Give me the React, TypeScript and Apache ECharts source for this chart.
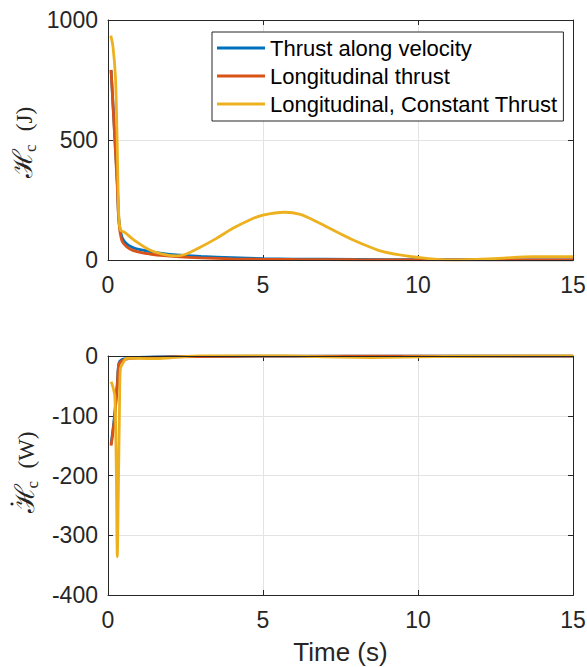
import React, { useEffect, useRef } from "react";
import * as echarts from "echarts";

// ---- Data ----
const seriesNames = ["Thrust along velocity", "Longitudinal thrust", "Longitudinal, Constant Thrust"];
const seriesColors = ["#0072BD", "#D95319", "#EDB120"];

// Top plot: H_c (J)
const timeTopBR = [0.1, 0.2, 0.3, 0.35, 0.45, 0.6, 0.8, 1.0, 1.4, 1.8, 2.2, 3, 4, 5, 6, 8, 10, 12, 15];
const hVelocity = [790, 560, 320, 170, 95, 68, 52, 44, 34, 26, 21, 15, 10, 6, 4, 2.5, 1.5, 1, 0.5];
const hLongitudinal = [792, 549, 306, 160, 80, 55, 40, 33, 24, 18, 14, 9, 5, 3, 2, 1, 0.8, 0.5, 0.4];

const timeTopY = [0.09, 0.16, 0.24, 0.29, 0.345, 0.4, 0.54, 0.81, 1.35, 1.88, 2.2, 2.53, 2.96, 3.5, 4.03, 4.57, 5.0, 5.7, 6.2, 6.72, 7.8, 8.87, 10.0, 11.13, 12.6, 13.7, 15];
const hConstant = [935, 889, 764, 528, 194, 125, 115, 86, 42, 21, 17, 25, 52, 90, 132, 167, 187, 199, 190, 160, 90, 35, 11, 0, 7, 14, 14];

// Bottom plot: dH_c/dt (W)
const timeBotBR = [0.1, 0.2, 0.3, 0.35, 0.45, 0.7, 1.0, 2.0, 4.0, 8.0, 15];
const dVelocity = [-148, -105, -45, -12, -6, -3.5, -2.5, -1.2, -0.4, 0, 0];
const dLongitudinal = [-150, -110, -50, -15, -8, -4, -3, -1.5, -0.5, 0, 0];

const timeBotY = [0.1, 0.15, 0.22, 0.25, 0.27, 0.3, 0.33, 0.37, 0.4, 0.48, 0.6, 1.0, 1.5, 2.0, 2.5, 3.0, 3.5, 4.5, 5.5, 6.5, 7.5, 8.5, 9.5, 10.5, 12, 13.5, 15];
const dConstant = [-43, -50, -68, -130, -200, -336, -240, -90, -21, -12, -4, -4, -4.5, -3, -1, 1, 2, 2.5, 1.5, -0.5, -2, -2.5, -2, -1, 0, 0.5, 0.5];

const xTicks = { min: 0, max: 15, interval: 5 };
const yTopTicks = { min: 0, max: 1000, interval: 500 };
const yBotTicks = { min: -400, max: 0, interval: 100 };
const xAxisTitle = "Time (s)";
const topUnit = "(J)";
const botUnit = "(W)";

const pair = (t: number[], v: number[]) => t.map((x, i) => [x, v[i]]);

const AXC = "#262626";
const FONT = "'Liberation Sans', Arial, Helvetica, sans-serif";
const SERIF = "'Liberation Serif', 'DejaVu Serif', serif";

const GRIDS = [
  { left: 108, top: 20, width: 465, height: 240 },
  { left: 108, top: 356, width: 465, height: 239 },
];

function yTitle(cx: number, cy: number, unit: string, dot: boolean, lay: any) {
  const F = 27;
  const children: any[] = [
    {
      type: "text",
      x: lay.h,
      y: -0.34 * F,
      style: { text: "ℋ", font: `${F}px 'DejaVu Serif', serif`, fill: AXC, align: "left", verticalAlign: "middle" },
    },
    {
      type: "text",
      x: lay.c,
      y: 4 - 0.34 * 17,
      style: { text: "c", font: `17px ${SERIF}`, fill: AXC, align: "left", verticalAlign: "middle" },
    },
    {
      type: "text",
      x: lay.u,
      y: -0.34 * 23,
      style: { text: unit, font: `23px ${SERIF}`, fill: AXC, align: "center", verticalAlign: "middle" },
    },
  ];
  if (dot) {
    children.push({ type: "circle", shape: { cx: lay.h + 9, cy: -22, r: 1.6 }, style: { fill: AXC } });
  }
  return { type: "group", x: cx, y: cy, rotation: Math.PI / 2, children };
}

function frame(g: any) {
  return {
    type: "rect",
    z: 100,
    silent: true,
    shape: { x: g.left + 0.5, y: g.top + 0.5, width: g.width, height: g.height },
    style: { fill: "none", stroke: AXC, lineWidth: 1 },
  };
}

function App() {
  const ref = useRef<HTMLDivElement>(null);
  useEffect(() => {
    if (!ref.current) return;
    const chart = echarts.init(ref.current, null, { renderer: "svg" });
    const grids = GRIDS.map((g) => ({ ...g, outerBoundsMode: "none", containLabel: false }));
    const mkX = (gi: number, pos: string, labels: boolean, name?: string) => ({
      type: "value",
      gridIndex: gi,
      position: pos,
      ...xTicks,
      name: name || "",
      nameLocation: "middle",
      nameGap: 44,
      nameTextStyle: { fontFamily: FONT, fontSize: 26, color: AXC },
      axisLine: { show: true, onZero: false, lineStyle: { color: AXC, width: 1 } },
      axisTick: { show: true, inside: true, length: 5, lineStyle: { color: AXC } },
      axisLabel: { show: labels, fontFamily: FONT, fontSize: 23, color: AXC, margin: 13 },
      splitLine: { show: labels, lineStyle: { color: "#e3e3e3", width: 1 } },
    });
    const mkY = (gi: number, pos: string, labels: boolean, ticks: any) => ({
      type: "value",
      gridIndex: gi,
      position: pos,
      ...ticks,
      axisLine: { show: true, onZero: false, lineStyle: { color: AXC, width: 1 } },
      axisTick: { show: true, inside: true, length: 5, lineStyle: { color: AXC } },
      axisLabel: {
        show: true,
        fontFamily: FONT,
        fontSize: 23,
        color: AXC,
        margin: 10,
        formatter: (v: number) => (labels ? String(v) : ""),
      },
      splitLine: { show: labels, lineStyle: { color: "#e3e3e3", width: 1 } },
    });
    const line = (name: string, color: string, data: number[][], gi: number) => ({
      type: "line",
      name,
      xAxisIndex: gi === 0 ? 0 : 2,
      yAxisIndex: gi === 0 ? 0 : 2,
      data,
      showSymbol: false,
      symbol: "none",
      lineStyle: { color, width: 2.8 },
      itemStyle: { color },
      smooth: 0.3,
      clip: true,
    });
    chart.setOption({
      animation: false,
      backgroundColor: "#ffffff",
      grid: grids,
      xAxis: [
        mkX(0, "bottom", true),
        mkX(0, "top", false),
        mkX(1, "bottom", true, xAxisTitle),
        mkX(1, "top", false),
      ],
      yAxis: [
        mkY(0, "left", true, yTopTicks),
        mkY(0, "right", false, yTopTicks),
        mkY(1, "left", true, yBotTicks),
        mkY(1, "right", false, yBotTicks),
      ],
      graphic: [
        frame(GRIDS[0]),
        frame(GRIDS[1]),
        yTitle(32, 141, topUnit, false, { h: -37, c: -11, u: 22 }),
        yTitle(34, 473.5, botUnit, true, { h: -39.5, c: -15, u: 23.5 }),
      ],
      legend: {
        show: true,
        orient: "vertical",
        left: 212,
        top: 32,
        padding: [5, 6, 6, 5],
        itemGap: 6,
        itemWidth: 48,
        itemHeight: 3,
        icon: "rect",
        backgroundColor: "#ffffff",
        borderColor: AXC,
        borderWidth: 1,
        borderRadius: 0,
        textStyle: { fontFamily: FONT, fontSize: 22, color: "#000000", lineHeight: 22 },
        data: seriesNames,
      },
      series: [
        line(seriesNames[0], seriesColors[0], pair(timeTopBR, hVelocity), 0),
        line(seriesNames[1], seriesColors[1], pair(timeTopBR, hLongitudinal), 0),
        line(seriesNames[2], seriesColors[2], pair(timeTopY, hConstant), 0),
        line(seriesNames[0], seriesColors[0], pair(timeBotBR, dVelocity), 1),
        line(seriesNames[1], seriesColors[1], pair(timeBotBR, dLongitudinal), 1),
        line(seriesNames[2], seriesColors[2], pair(timeBotY, dConstant), 1),
      ],
    });
    return () => chart.dispose();
  }, []);
  return <div ref={ref} style={{ position: "fixed", left: 0, top: 0, width: 587, height: 667 }} />;
}

export default App;
